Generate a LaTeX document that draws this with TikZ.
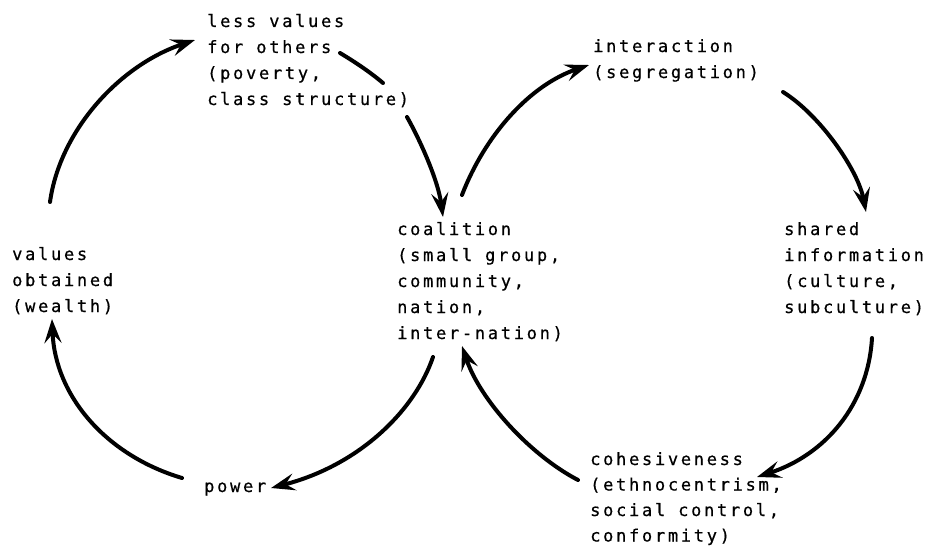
\documentclass[tikz,border=0pt]{standalone}
\usepackage{fontspec}
\newfontfamily\plotfont{DejaVu Sans Mono}[LetterSpace=16,FakeBold=0.6]
\usetikzlibrary{arrows.meta}
\newcommand{\blk}[2][26pt]{\vtop{\baselineskip=#1 #2}}
\tikzset{
  lbl/.style={anchor=base west, inner sep=0pt, font=\plotfont\fontsize{17}{26}\selectfont},
  flow/.style={line width=4pt, line cap=round, -{Stealth[length=24pt,width=17pt,inset=9pt]}},
  seg/.style={line width=4pt, line cap=round}
}
\begin{document}
\begin{tikzpicture}[x=1pt,y=-1pt]
\useasboundingbox (0,0) rectangle (927,546);
% text blocks
\node[lbl] (less) at (207,27) {\blk{\hbox{less values}\hbox{for others}\hbox{(poverty,}\hbox{class structure)}}};
\node[lbl] (inter) at (593,52) {\blk{\hbox{interaction}\hbox{(segregation)}}};
\node[lbl] (coal) at (397,235) {\blk{\hbox{coalition}\hbox{(small group,}\hbox{community,}\hbox{nation,}\hbox{inter-nation)}}};
\node[lbl] (shared) at (784,235) {\blk{\hbox{shared}\hbox{information}\hbox{(culture,}\hbox{subculture)}}};
\node[lbl] (values) at (12,260) {\blk{\hbox{values}\hbox{obtained}\hbox{(wealth)}}};
\node[lbl] (power) at (204,492) {power};
\node[lbl] (cohes) at (590,465) {\blk[25.5pt]{\hbox{cohesiveness}\hbox{(ethnocentrism,}\hbox{social control,}\hbox{conformity)}}};
% arrow end points
\coordinate (a1s) at (50,202);   \coordinate (a1e) at (195,40);
\coordinate (a2s) at (340,53);   \coordinate (a2m) at (383,83);
\coordinate (a2n) at (407,117);  \coordinate (a2e) at (443,217);
\coordinate (a3s) at (462,195);  \coordinate (a3e) at (589,65);
\coordinate (a4s) at (783,92);   \coordinate (a4e) at (866,212);
\coordinate (a5s) at (872,338);  \coordinate (a5e) at (757,477);
\coordinate (a6s) at (578,480);  \coordinate (a6e) at (462,346);
\coordinate (a7s) at (433,357);  \coordinate (a7e) at (271,488);
\coordinate (a8s) at (182,478);  \coordinate (a8e) at (52,319);
% arrows
\draw[flow] (a1s) .. controls (60,130) and (120,65) .. (a1e);
\draw[seg]  (a2s) .. controls (355,62) and (370,72) .. (a2m);
\draw[flow] (a2n) .. controls (420,140) and (438,180) .. (a2e);
\draw[flow] (a3s) .. controls (485,135) and (530,85) .. (a3e);
\draw[flow] (a4s) .. controls (820,115) and (858,170) .. (a4e);
\draw[flow] (a5s) .. controls (868,405) and (825,455) .. (a5e);
\draw[flow] (a6s) .. controls (530,455) and (480,400) .. (a6e);
\draw[flow] (a7s) .. controls (415,410) and (360,465) .. (a7e);
\draw[flow] (a8s) .. controls (105,455) and (55,395) .. (a8e);
\end{tikzpicture}
\end{document}
